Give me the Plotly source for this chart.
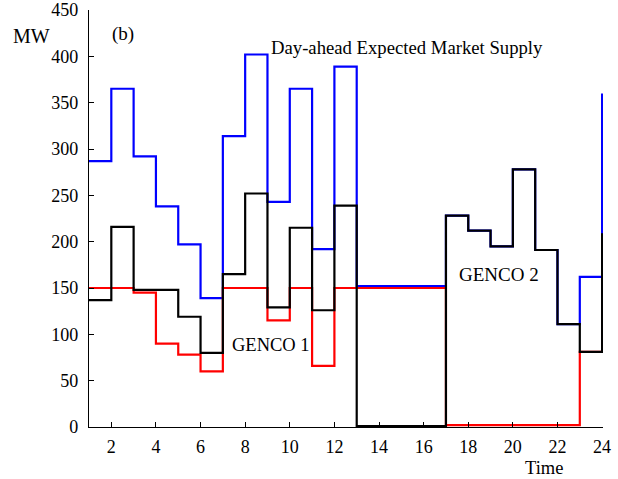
import plotly.graph_objects as go

# Hourly schedule (MW) for each hour 1..24
hours = list(range(1, 25))
market_supply = [287, 365, 292, 238, 197, 139, 314, 402, 243, 365, 192, 389,
                 152, 152, 152, 152, 228, 212, 195, 278, 191, 111, 162, 360]
genco1 = [150, 150, 145, 90, 78, 60, 150, 150, 115, 150, 66, 150,
          150, 150, 150, 150, 2, 2, 2, 2, 2, 2, 81, 150]
genco2 = [137, 216, 148, 148, 119, 80, 165, 252, 129, 215, 126, 239,
          1, 1, 1, 1, 228, 212, 195, 278, 191, 111, 81, 209]

x_ticks = list(range(2, 25, 2))
y_ticks = list(range(0, 451, 50))

FONT = "Liberation Serif, Times New Roman, serif"

fig = go.Figure()
for vals, color in [(market_supply, "#0000ff"), (genco1, "#ff0000"), (genco2, "#000000")]:
    fig.add_trace(go.Scatter(
        x=hours, y=vals, mode="lines",
        line=dict(color=color, width=2.2, shape="hv"),
        showlegend=False, hoverinfo="skip",
    ))

axis_common = dict(
    showline=True, linecolor="black", linewidth=1.3,
    ticks="inside", ticklen=5, tickwidth=1.2, tickcolor="black",
    showgrid=False, zeroline=False, automargin=False,
    tickfont=dict(family=FONT, size=18, color="black"),
)
fig.update_xaxes(range=[1, 24.04], tickvals=x_ticks, ticklabelstandoff=3, **axis_common)
fig.update_yaxes(range=[0, 450], tickvals=y_ticks, ticklabelstandoff=6, **axis_common)

labels = [
    dict(text="(b)", x=1.95, y=424, size=19),
    dict(text="Day-ahead Expected Market Supply", x=9.09, y=409, size=18.7),
    dict(text="GENCO 1", x=7.30, y=89, size=18.5),
    dict(text="GENCO 2", x=17.51, y=165, size=19),
]
for lab in labels:
    fig.add_annotation(x=lab["x"], y=lab["y"], xref="x", yref="y", text=lab["text"],
                       showarrow=False, xanchor="left", yanchor="middle",
                       font=dict(family=FONT, size=lab["size"], color="black"))

fig.add_annotation(x=-0.152, y=0.937, xref="paper", yref="paper", text="MW",
                   showarrow=False, xanchor="left", yanchor="middle",
                   font=dict(family=FONT, size=20, color="black"))
fig.add_annotation(x=0.845, y=-0.098, xref="paper", yref="paper", text="Time",
                   showarrow=False, xanchor="left", yanchor="middle",
                   font=dict(family=FONT, size=18.5, color="black"))

fig.update_layout(
    width=618, height=479,
    margin=dict(l=89, r=15, t=10, b=52, autoexpand=False),
    plot_bgcolor="white", paper_bgcolor="white",
)

fig.write_html("out.html")
